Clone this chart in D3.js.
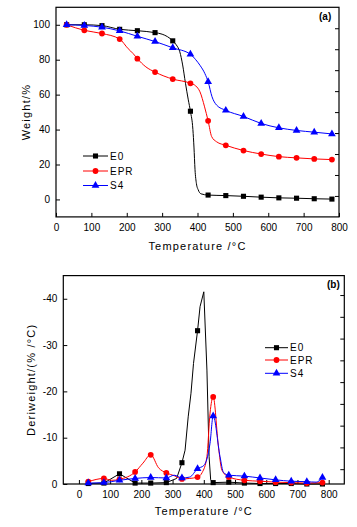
<!DOCTYPE html>
<html><head><meta charset="utf-8">
<script src="https://cdn.jsdelivr.net/npm/d3@7"></script>
<style>
html,body{margin:0;padding:0;background:#fff;}
svg text{font-family:"Liberation Sans",Arial,sans-serif;fill:#000;}
</style></head>
<body><svg id="c" width="357" height="527"></svg>
<script>
// ---------- data ----------
const seriesNames = ["E0", "EPR", "S4"];
const seriesColors = ["#000000", "#ff0000", "#0000ff"];
const markerTemps = [30, 80, 130, 180, 230, 280, 330, 380, 430, 480, 530, 580, 630, 680, 730, 780];

// (a) TGA weight %
const tgaE0T = [30, 80, 130, 180, 230, 280, 300, 315, 330, 340, 350, 358, 366, 374, 380, 387, 390, 393, 397, 402, 410, 430, 480, 530, 580, 630, 680, 730, 780];
const tgaE0V = [100, 100, 99.5, 97.4, 96.6, 95.5, 94.6, 93.2, 90.8, 88.5, 84.5, 77, 66.5, 57, 50.5, 40, 30, 17, 9, 5.5, 3.2, 2.5, 2.2, 1.8, 1.3, 0.9, 0.7, 0.4, 0.2];
const tgaEPRT = [30, 80, 130, 180, 204, 218, 230, 254, 280, 330, 380, 395, 407, 420, 430, 440, 454, 480, 530, 580, 630, 680, 730, 780];
const tgaEPRV = [100, 96.8, 95, 91.8, 86.3, 83.5, 80.6, 75.9, 72.9, 68.9, 66.5, 65, 61.6, 53, 45, 36, 33, 31, 28, 26, 24.5, 23.8, 23.2, 22.8];
const tgaS4T = [30, 80, 130, 180, 230, 280, 330, 380, 395, 407, 421, 430, 441, 454, 480, 530, 580, 630, 680, 730, 780];
const tgaS4V = [100, 99.6, 98.6, 96.5, 93.4, 90.4, 86.8, 83.1, 80, 76.8, 72, 67.4, 58.8, 54, 51, 47.5, 43.5, 41, 39.5, 38.5, 37.5];

// (b) DTG, derivative weight %/°C
const dtgE0T = [30, 80, 130, 180, 230, 280, 313, 330, 340, 350, 359, 367, 380, 388, 400, 410, 417, 422, 430, 480, 530, 580, 630, 680, 730, 780];
const dtgE0V = [-0.1, -0.2, -2.2, -0.2, -0.2, -0.3, -1.2, -4.6, -7.3, -14.5, -19.6, -26, -33.1, -38.3, -41.5, -24.6, -5.9, -0.9, -0.3, -0.4, -0.2, -0.1, -0.1, -0.1, 0, 0];
const dtgEPRT = [30, 80, 105, 130, 180, 205, 230, 255, 280, 305, 330, 355, 380, 395, 410, 420, 430, 447, 458, 480, 530, 580, 630, 680, 730, 780];
const dtgEPRV = [-0.5, -1.2, -0.8, -1.0, -2.6, -4.5, -6.3, -3.5, -2.4, -1.8, -1.1, -1.2, -1.5, -2.5, -5.9, -15.3, -18.8, -8, -3, -1.5, -0.8, -0.6, -0.4, -0.3, -0.2, -0.3];
const dtgS4T = [30, 80, 130, 180, 230, 280, 305, 330, 355, 380, 400, 420, 430, 452, 463, 480, 530, 580, 630, 680, 730, 760, 780];
const dtgS4V = [-0.2, -0.3, -0.8, -1.2, -1.4, -1.3, -1.9, -1.3, -1.5, -3.3, -4, -8.8, -14.7, -5.9, -2.5, -1.9, -1.7, -1.3, -0.9, -0.6, -0.5, -0.4, -1.4];

const xTicksA = [0, 100, 200, 300, 400, 500, 600, 700, 800];
const yTicksA = [0, 20, 40, 60, 80, 100];
const yRightTicksA = [98, 86, 74, 62, 50, 38, 26, 14, 2];
const xTicksB = [0, 100, 200, 300, 400, 500, 600, 700, 800];
const yTicksB = [0, -10, -20, -30, -40];
const yRightTicksB = [-40.8, -36.1, -31.4, -26.7, -22, -17.3, -12.6, -7.9, -3.2];

// ---------- drawing ----------
const svg = d3.select("#c");
const symbols = [d3.symbolSquare, d3.symbolCircle, d3.symbolTriangle];
const symSizes = [26, 26, 26];

function zip(T, V){ return T.map((t,i)=>({t, v:V[i]})); }

function panel(cfg){
  const g = svg.append("g");
  const x = d3.scaleLinear().domain(cfg.xDom).range(cfg.xRange);
  const y = d3.scaleLinear().domain(cfg.yDom).range(cfg.yRange);
  const fmt = d => String(d);
  // axes
  const ax = g.append("g").attr("transform", `translate(0,${cfg.yRange[0]})`)
    .call(d3.axisBottom(x).tickValues(cfg.xTicks).tickFormat(fmt).tickSizeInner(-4).tickSizeOuter(0).tickPadding(7));
  const ay = g.append("g").attr("transform", `translate(${cfg.xRange[0]},0)`)
    .call(d3.axisLeft(y).tickValues(cfg.yTicks).tickFormat(fmt).tickSizeInner(-4).tickSizeOuter(0).tickPadding(6));
  const ar = g.append("g").attr("transform", `translate(${cfg.xRange[1]},0)`)
    .call(d3.axisRight(y).tickValues(cfg.yRight).tickFormat("").tickSizeInner(-4).tickSizeOuter(0));
  [ax, ay, ar].forEach(a => {
    a.select(".domain").remove();
    a.selectAll("line").attr("stroke", "#000").attr("stroke-width", 1);
    a.selectAll("text").attr("font-size", 10).attr("font-family", "Liberation Sans, Arial, sans-serif").attr("fill", "#000");
  });
  // frame
  g.append("rect").attr("x", cfg.xRange[0]).attr("y", cfg.yRange[1])
    .attr("width", cfg.xRange[1]-cfg.xRange[0]).attr("height", cfg.yRange[0]-cfg.yRange[1])
    .attr("fill", "none").attr("stroke", "#000").attr("stroke-width", 1.2);
  // series
  cfg.series.forEach((s, i) => {
    const data = zip(s.T, s.V);
    const line = d3.line().x(d => x(d.t)).y(d => y(d.v)).curve(s.curve);
    g.append("path").datum(data).attr("d", line).attr("fill", "none")
      .attr("stroke", seriesColors[i]).attr("stroke-width", 1);
    const sym = d3.symbol().type(symbols[i]).size(symSizes[i]);
    g.selectAll(null).data(data.filter(d => markerTemps.includes(d.t))).join("path")
      .attr("d", sym).attr("transform", d => `translate(${x(d.t)},${y(d.v)})`)
      .attr("fill", seriesColors[i]);
  });
  // legend
  seriesNames.forEach((n, i) => {
    const ly = cfg.legY[i];
    g.append("line").attr("x1", cfg.legX[0]).attr("x2", cfg.legX[1]).attr("y1", ly).attr("y2", ly)
      .attr("stroke", seriesColors[i]).attr("stroke-width", 1);
    g.append("path").attr("d", d3.symbol().type(symbols[i]).size(symSizes[i]))
      .attr("transform", `translate(${(cfg.legX[0]+cfg.legX[1])/2},${ly})`).attr("fill", seriesColors[i]);
    g.append("text").attr("x", cfg.legX[1]+2).attr("y", ly+3.6).attr("font-size", 10)
      .attr("letter-spacing", 1).text(n);
  });
  // titles
  g.append("text").attr("x", (cfg.xRange[0]+cfg.xRange[1])/2).attr("y", cfg.xTitleY)
    .attr("text-anchor", "middle").attr("font-size", 11).attr("letter-spacing", 1.2).text(cfg.xTitle);
  g.append("text").attr("transform", `translate(${cfg.yTitleX},${(cfg.yRange[0]+cfg.yRange[1])/2}) rotate(-90)`)
    .attr("text-anchor", "middle").attr("font-size", 11).attr("letter-spacing", 1.2).text(cfg.yTitle);
  g.append("text").attr("x", cfg.tag[0]).attr("y", cfg.tag[1]).attr("font-size", 10).attr("font-weight", "bold").text(cfg.tagText);
}

panel({
  xDom: [0, 800], xRange: [56, 339],
  yDom: [-10, 110], yRange: [216.9, 7.3],
  xTicks: xTicksA, yTicks: yTicksA, yRight: yRightTicksA,
  series: [
    {T: tgaE0T, V: tgaE0V, curve: d3.curveMonotoneX},
    {T: tgaEPRT, V: tgaEPRV, curve: d3.curveMonotoneX},
    {T: tgaS4T, V: tgaS4V, curve: d3.curveMonotoneX}
  ],
  legX: [83, 108], legY: [156, 171, 185.5],
  xTitle: "Temperature /°C", xTitleY: 250,
  yTitle: "Weight/%", yTitleX: 30,
  tag: [319, 20], tagText: "(a)"
});

panel({
  xDom: [-50, 850], xRange: [63.3, 344.3],
  yDom: [0, -45], yRange: [484, 275.6],
  xTicks: xTicksB, yTicks: yTicksB, yRight: yRightTicksB,
  series: [
    {T: dtgE0T, V: dtgE0V, curve: d3.curveLinear},
    {T: dtgEPRT, V: dtgEPRV, curve: d3.curveMonotoneX},
    {T: dtgS4T, V: dtgS4V, curve: d3.curveMonotoneX}
  ],
  legX: [265, 288], legY: [347.7, 360, 373.3],
  xTitle: "Temperature /°C", xTitleY: 515,
  yTitle: "Deriweight/(% /°C)", yTitleX: 35,
  tag: [327, 287.5], tagText: "(b)"
});
</script></body></html>
